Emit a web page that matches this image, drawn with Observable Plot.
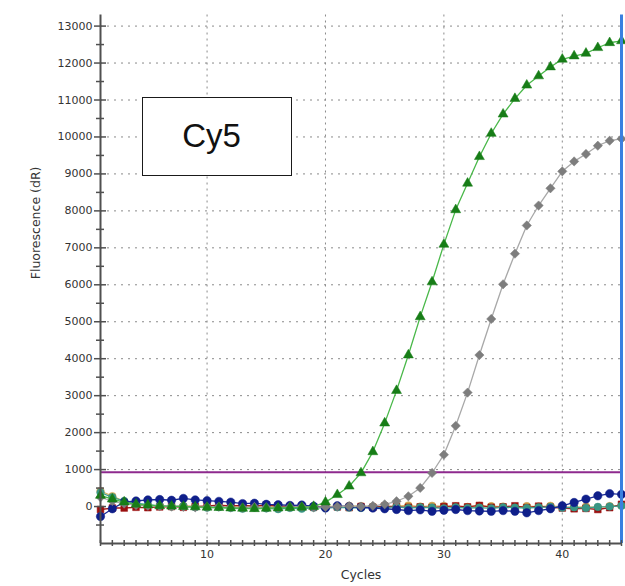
<!DOCTYPE html>
<html>
<head>
<meta charset="utf-8">
<script src="https://cdn.jsdelivr.net/npm/d3@7"></script>
<script src="https://cdn.jsdelivr.net/npm/@observablehq/plot@0.6"></script>
<style>
  body { margin: 0; background: #fff; }
  #chart { position: relative; width: 625px; height: 586px; }
  #topline { position: absolute; left: 0; top: 5px; width: 625px; height: 1px; background: #e4e4e4; }
  #dye {
    position: absolute; left: 142px; top: 97px; width: 150px; height: 79px;
    box-sizing: border-box; border: 1.5px solid #1a1a1a; background: #fff;
    font-family: "Liberation Sans", Arial, sans-serif; font-size: 33px;
    line-height: 75px; text-align: center; padding-right: 11px; color: #111;
  }
</style>
</head>
<body>
<div id="chart"><div id="topline"></div></div>
<script>
// Amplification plot, Cy5 channel: fluorescence (dR) per PCR cycle
const cycles = [1,2,3,4,5,6,7,8,9,10,11,12,13,14,15,16,17,18,19,20,21,22,23,24,25,26,27,28,29,30,31,32,33,34,35,36,37,38,39,40,41,42,43,44,45];

const greenSample = [300,200,120,60,40,20,10,0,-10,-20,-30,-40,-50,-60,-50,-40,-30,-20,0,120,320,550,910,1480,2257,3137,4099,5132,6076,7093,8028,8746,9466,10094,10617,11038,11400,11650,11893,12101,12190,12263,12414,12549,12600];
const graySample = [250,150,80,40,20,10,0,-10,-20,-10,0,-20,-30,-10,-20,-30,-10,0,-20,-10,0,10,0,20,60,143,278,503,908,1402,2184,3083,4099,5075,6014,6842,7605,8145,8611,9070,9339,9539,9763,9898,9950];
const blueSample = [-270,-60,120,150,180,190,170,220,180,160,140,120,80,90,60,50,30,40,10,-40,20,0,-20,-40,-60,-80,-110,-90,-130,-100,-80,-110,-120,-130,-110,-130,-170,-110,-60,20,110,200,290,350,330];
const redSample = [-80,-40,-40,-20,-30,-10,0,-20,0,20,40,20,30,10,40,20,0,-10,-20,0,-10,-30,0,-20,10,0,-20,-10,-30,0,20,-10,30,-20,-10,20,-30,10,-20,-40,-60,-50,-80,-30,60];
const tealSample = [380,250,150,90,50,20,0,10,-20,-30,-20,-40,-60,-30,-50,-70,-40,-60,-30,-40,-20,-30,-40,-20,-30,-10,-40,-20,-30,-50,-20,-40,-30,-50,-20,-30,-40,-20,-10,-30,-20,-40,-10,0,20];
const goldSample = [420,280,140,70,30,10,0,20,10,-10,0,10,20,0,-10,10,20,0,-10,10,0,20,10,0,-10,10,30,0,20,10,0,-10,20,10,0,-20,10,0,20,-10,-20,0,-30,10,30];

const threshold = 930;
const yMajorTicks = [0,1000,2000,3000,4000,5000,6000,7000,8000,9000,10000,11000,12000,13000];
const yMinorTicks = [-500,500,1500,2500,3500,4500,5500,6500,7500,8500,9500,10500,11500,12500];
const xLabelTicks = [10,20,30,40];

const series = [
  {values: goldSample,  stroke: "#d9b266", fill: "#cfa24e", symbol: "circle",   r: 3.8, rotate: 0},
  {values: redSample,   stroke: "#a31616", fill: "#9a0f0f", symbol: "square",   r: 3.8, rotate: 0},
  {values: tealSample,  stroke: "#3f9f8c", fill: "#389684", symbol: "circle",   r: 3.8, rotate: 0},
  {values: blueSample,  stroke: "#1a2a96", fill: "#0f1f8a", symbol: "circle",   r: 4.2, rotate: 0},
  {values: graySample,  stroke: "#a8a8a8", fill: "#7d7d7d", symbol: "square",   r: 3.7, rotate: 45},
  {values: greenSample, stroke: "#49b849", fill: "#177d17", symbol: "triangle", r: 3.7, rotate: 0}
];

const W = 625, H = 586;
const margin = {top: 14.5, right: 4, bottom: 43, left: 100};
const frameW = W - margin.left - margin.right;
const frameH = H - margin.top - margin.bottom;

const seriesMarks = series.flatMap(s => {
  const rows = s.values.map((v, i) => ({cycle: cycles[i], value: v}));
  return [
    Plot.line(rows, {x: "cycle", y: "value", stroke: s.stroke, strokeWidth: 1.3}),
    Plot.dot(rows, {x: "cycle", y: "value", fill: s.fill, stroke: s.fill, strokeWidth: 0.5, symbol: s.symbol, r: s.r, rotate: s.rotate})
  ];
});

const chart = Plot.plot({
  width: W,
  height: H,
  marginTop: margin.top,
  marginRight: margin.right,
  marginBottom: margin.bottom,
  marginLeft: margin.left,
  style: {fontFamily: "'DejaVu Sans', sans-serif", fontSize: "11px", color: "#333", background: "#fff", overflow: "visible"},
  x: {domain: [1, 45], axis: null},
  y: {domain: [-1000, 13300], axis: null},
  marks: [
    // dotted grid
    Plot.ruleY(yMajorTicks.filter(d => d > 0), {y: d => d, stroke: "#8a8a8a", strokeWidth: 1, strokeDasharray: "2,5"}),
    Plot.ruleX(xLabelTicks, {x: d => d, stroke: "#8a8a8a", strokeWidth: 1, strokeDasharray: "2,4"}),
    // threshold
    Plot.ruleY([threshold], {stroke: "#8e2a8e", strokeWidth: 2}),
    ...seriesMarks,
    // cursor line at the last cycle
    Plot.ruleX([45], {stroke: "#3a80e0", strokeWidth: 3}),
    // axis lines
    Plot.ruleX([1], {stroke: "#505050", strokeWidth: 2}),
    Plot.ruleY([-1000], {stroke: "#505050", strokeWidth: 2}),
    // y ticks crossing the axis
    Plot.tickY(yMajorTicks, {y: d => d, insetLeft: -6, insetRight: frameW - 6, stroke: "#505050", strokeWidth: 1.5}),
    Plot.tickY(yMinorTicks, {y: d => d, insetLeft: -4, insetRight: frameW - 4, stroke: "#505050", strokeWidth: 1.5}),
    // x ticks crossing the axis at every cycle
    Plot.tickX(cycles, {x: d => d, insetTop: frameH - 3, insetBottom: -3, stroke: "#505050", strokeWidth: 1.5}),
    // tick labels
    Plot.text(yMajorTicks, {y: d => d, text: d => String(d), frameAnchor: "left", dx: -8, textAnchor: "end", fill: "#333", fontSize: 11}),
    Plot.text(xLabelTicks, {x: d => d, text: d => String(d), frameAnchor: "bottom", dy: 14, fill: "#333", fontSize: 11}),
    // axis titles
    Plot.text(["Cycles"], {frameAnchor: "bottom", dy: 35, fill: "#333", fontSize: 12.5}),
    Plot.text(["Fluorescence (dR)"], {frameAnchor: "left", dx: -65, rotate: -90, fill: "#333", fontSize: 12.5})
  ]
});

const host = document.getElementById("chart");
host.appendChild(chart);
chart.style.position = "absolute";
chart.style.left = "0";
chart.style.top = "0";

const dye = document.createElement("div");
dye.id = "dye";
dye.textContent = "Cy5";
host.appendChild(dye);
</script>
</body>
</html>
